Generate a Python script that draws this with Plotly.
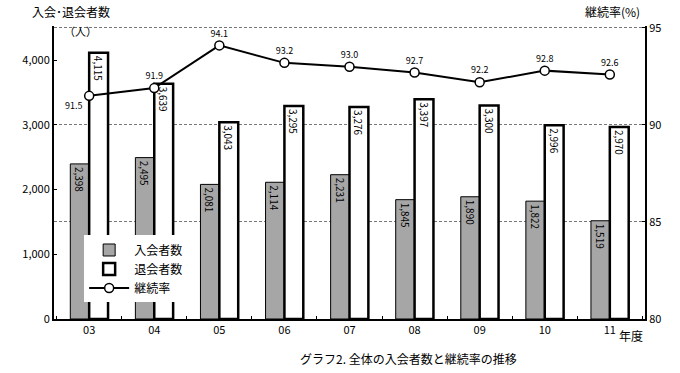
import plotly.graph_objects as go

years = ["03", "04", "05", "06", "07", "08", "09", "10", "11"]
joins = [2398, 2495, 2081, 2114, 2231, 1845, 1890, 1822, 1519]
leaves = [4115, 3639, 3043, 3295, 3276, 3397, 3300, 2996, 2970]
rate = [91.5, 91.9, 94.1, 93.2, 93.0, 92.7, 92.2, 92.8, 92.6]
rate_labels = ["91.5", "91.9", "94.1", "93.2", "93.0", "92.7", "92.2", "92.8", "92.6"]
left_ticks = [0, 1000, 2000, 3000, 4000]
left_ticklabels = ["0", "1,000", "2,000", "3,000", "4,000"]
right_ticks = [80, 85, 90, 95]

FONT = "Noto Sans CJK JP"

fig = go.Figure()
fig.add_trace(go.Bar(
    x=years, y=joins, name="入会者数",
    marker=dict(color="#a6a6a6", line=dict(color="black", width=1)),
    text=[f"{v:,}" for v in joins], textposition="inside", insidetextanchor="end",
    textangle=90, textfont=dict(size=10, color="black", family=FONT),
))
fig.add_trace(go.Bar(
    x=years, y=leaves, name="退会者数",
    marker=dict(color="white", line=dict(color="black", width=2.5)),
    text=[f"{v:,}" for v in leaves], textposition="inside", insidetextanchor="end",
    textangle=90, textfont=dict(size=10, color="black", family=FONT),
))
fig.add_trace(go.Scatter(
    x=years, y=rate, name="継続率", yaxis="y2", mode="lines+markers+text",
    line=dict(color="black", width=2),
    marker=dict(symbol="circle", size=9, color="white", line=dict(color="black", width=1.5)),
    text=rate_labels,
    textposition=["bottom left"] + ["top center"] * 8,
    textfont=dict(size=9, color="black", family=FONT),
))

fig.update_layout(
    width=680, height=373,
    margin=dict(l=54, r=35, t=26, b=54),
    paper_bgcolor="white", plot_bgcolor="white",
    font=dict(family=FONT, size=11, color="black"),
    barmode="group", bargap=0.42, bargroupgap=0,
    uniformtext=dict(minsize=9, mode="show"),
    showlegend=True,
    legend=dict(x=0.051, y=0.285, xanchor="left", yanchor="top",
                bgcolor="white", borderwidth=0, font=dict(size=12, family=FONT),
                tracegroupgap=2, itemwidth=40),
    xaxis=dict(showline=True, linecolor="black", linewidth=2, ticks="inside",
               tickson="boundaries", ticklen=3, tickcolor="black",
               showgrid=False, tickfont=dict(size=11)),
    yaxis=dict(range=[0, 4530], tickvals=left_ticks, ticktext=left_ticklabels,
               showline=True, linecolor="black", linewidth=2, ticks="inside",
               ticklen=3, tickcolor="black", showgrid=False, zeroline=False,
               tickfont=dict(size=11)),
    yaxis2=dict(range=[80, 95.1], tickvals=right_ticks, overlaying="y", side="right",
                showline=True, linecolor="black", linewidth=2, ticks="inside",
                ticklen=3, tickcolor="black", showgrid=True, gridcolor="#777777",
                griddash="3px,2px", gridwidth=1, zeroline=False, tickfont=dict(size=11)),
    annotations=[
        dict(text="入会･退会者数", xref="paper", yref="paper", x=-0.04, y=1.05,
             xanchor="left", yanchor="middle", showarrow=False, font=dict(size=12)),
        dict(text="（人）", xref="paper", yref="paper", x=0.045, y=0.984,
             xanchor="center", yanchor="middle", showarrow=False, font=dict(size=11)),
        dict(text="継続率(%)", xref="paper", yref="paper", x=0.995, y=1.05,
             xanchor="right", yanchor="middle", showarrow=False, font=dict(size=12)),
        dict(text="年度", xref="paper", yref="paper", x=1.0, y=-0.02,
             xanchor="right", yanchor="top", showarrow=False, font=dict(size=12)),
        dict(text="グラフ2. 全体の入会者数と継続率の推移", xref="paper", yref="paper",
             x=0.6, y=-0.10, xanchor="center", yanchor="top", showarrow=False,
             font=dict(size=12)),
    ],
)

fig.write_html("out.html", config={"displayModeBar": False},
               post_script="document.body.style.margin='0px';")
